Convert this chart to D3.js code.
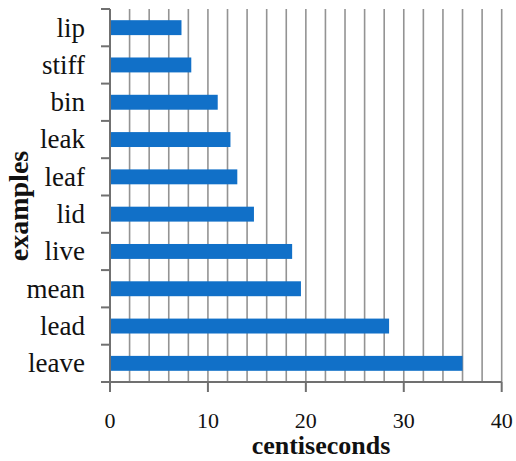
<!DOCTYPE html>
<html>
<head>
<meta charset="utf-8">
<script src="https://cdn.jsdelivr.net/npm/d3@7"></script>
<style>
  html, body { margin: 0; padding: 0; background: #fff; }
  svg { display: block; }
</style>
</head>
<body>
<svg id="chart" width="516" height="461"></svg>
<script>
const categories = ["lip", "stiff", "bin", "leak", "leaf", "lid", "live", "mean", "lead", "leave"];
const values = [7.3, 8.3, 11.0, 12.3, 13.0, 14.7, 18.6, 19.5, 28.5, 36.0];
const xTicks = [0, 10, 20, 30, 40];
const gridTicks = d3.range(2, 41, 2);
const xTitle = "centiseconds";
const yTitle = "examples";

const svg = d3.select("#chart");
const m = { left: 110, top: 9, right: 14, bottom: 79 };
const x = d3.scaleLinear().domain([0, 40]).range([m.left, 501.7]);
const y = d3.scaleBand().domain(categories).range([m.top, 382]).paddingInner(0.6).paddingOuter(0.3);
const yb = d3.scaleBand().domain(categories).range([m.top, 382]);

const font = "'Liberation Serif', 'DejaVu Serif', serif";
const axisColor = "#707070";

// gridlines
svg.append("g").selectAll("line").data(gridTicks).join("line")
  .attr("x1", d => x(d)).attr("x2", d => x(d))
  .attr("y1", m.top).attr("y2", 382)
  .attr("stroke", "#939393").attr("stroke-width", 1.6);

// bars
svg.append("g").selectAll("rect").data(categories).join("rect")
  .attr("x", x(0))
  .attr("y", d => y(d))
  .attr("width", (d, i) => x(values[i]) - x(0))
  .attr("height", y.bandwidth())
  .attr("fill", "#1170c8");

// y axis
const yAxis = svg.append("g");
yAxis.append("line").attr("x1", x(0)).attr("x2", x(0)).attr("y1", m.top).attr("y2", 382)
  .attr("stroke", axisColor).attr("stroke-width", 2);
const bounds = categories.map(c => yb(c)).concat([382]);
yAxis.selectAll("line.tk").data(bounds).join("line").attr("class", "tk")
  .attr("x1", x(0) - 9).attr("x2", x(0)).attr("y1", d => d).attr("y2", d => d)
  .attr("stroke", axisColor).attr("stroke-width", 2);
yAxis.selectAll("text").data(categories).join("text")
  .attr("x", 85).attr("y", d => yb(d) + yb.bandwidth() / 2)
  .attr("dy", "0.33em")
  .attr("text-anchor", "end")
  .attr("font-family", font).attr("font-size", 27).attr("fill", "#111")
  .text(d => d);

// x axis
const xAxis = svg.append("g");
xAxis.append("line").attr("x1", x(0) - 9).attr("x2", x(40)).attr("y1", 382).attr("y2", 382)
  .attr("stroke", axisColor).attr("stroke-width", 2);
xAxis.selectAll("line.tk").data(xTicks).join("line").attr("class", "tk")
  .attr("x1", d => x(d)).attr("x2", d => x(d)).attr("y1", 382).attr("y2", 392)
  .attr("stroke", axisColor).attr("stroke-width", 2);
xAxis.selectAll("text").data(xTicks).join("text")
  .attr("x", d => x(d)).attr("y", 428)
  .attr("text-anchor", "middle")
  .attr("font-family", font).attr("font-size", 22).attr("fill", "#111")
  .text(d => d);

// titles
svg.append("text").attr("x", 321).attr("y", 454)
  .attr("text-anchor", "middle").attr("font-family", font).attr("font-weight", "bold")
  .attr("font-size", 26).attr("fill", "#111").text(xTitle);
svg.append("text").attr("transform", "translate(28,206) rotate(-90)")
  .attr("text-anchor", "middle").attr("font-family", font).attr("font-weight", "bold")
  .attr("font-size", 28).attr("fill", "#111").text(yTitle);
</script>
</body>
</html>
